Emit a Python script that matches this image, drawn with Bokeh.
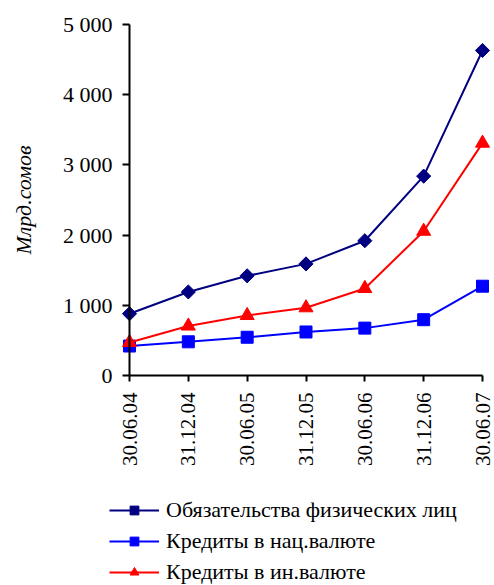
import numpy as np
from bokeh.plotting import figure
from bokeh.models import Range1d, FixedTicker, Legend, LegendItem
from bokeh.embed import file_html
from bokeh.resources import INLINE

dates = ["30.06.04", "31.12.04", "30.06.05", "31.12.05", "30.06.06", "31.12.06", "30.06.07"]
obligations = [880, 1190, 1420, 1590, 1920, 2840, 4630]
credits_nat = [420, 480, 545, 620, 675, 795, 1272]
credits_for = [470, 705, 855, 965, 1240, 2055, 3310]
y_ticks = [0, 1000, 2000, 3000, 4000, 5000]
y_tick_labels = ["0", "1 000", "2 000", "3 000", "4 000", "5 000"]
series_names = ["Обязательства физических лиц", "Кредиты в нац.валюте", "Кредиты в ин.валюте"]

FONT = "Liberation Serif"
FS = "22px"
xs = list(range(len(dates)))

W, H = 494, 585
# pixel layout of the plotting area: x=0 at 129px, x=6 at 482px; y=0 at 375px, y=5000 at 24px
X0, X6, Y0, Y5 = 129, 482, 375, 24
px_per_x = (X6 - X0) / 6
px_per_y = (Y0 - Y5) / 5000
x_range = Range1d(-X0 / px_per_x, 6 + (W - X6) / px_per_x)
y_range = Range1d(-(H - Y0) / px_per_y, 5000 + Y5 / px_per_y)

p = figure(width=W, height=H, output_backend="svg", toolbar_location=None,
           x_range=x_range, y_range=y_range,
           min_border_left=0, min_border_right=0, min_border_top=0, min_border_bottom=0)
p.outline_line_color = None
p.xgrid.visible = False
p.ygrid.visible = False
p.background_fill_color = "white"
p.border_fill_color = "white"

# y axis
p.yaxis.fixed_location = 0
p.yaxis.bounds = (0, 5000)
p.yaxis.ticker = FixedTicker(ticks=y_ticks)
p.yaxis.major_label_overrides = {t: l for t, l in zip(y_ticks, y_tick_labels)}
p.yaxis.minor_tick_line_color = None
p.yaxis.major_tick_out = 7
p.yaxis.major_tick_in = 0
p.yaxis.major_label_standoff = 10
p.yaxis.axis_line_color = "black"
p.yaxis.axis_line_width = 2
p.yaxis.major_tick_line_width = 2
p.yaxis.major_label_text_font = FONT
p.yaxis.major_label_text_font_size = FS
p.yaxis.major_label_text_color = "black"
p.yaxis.axis_label = "Млрд.сомов"
p.yaxis.axis_label_text_font = FONT
p.yaxis.axis_label_text_font_style = "italic"
p.yaxis.axis_label_text_font_size = FS
p.yaxis.axis_label_text_color = "black"
p.yaxis.axis_label_standoff = 24

# x axis
p.xaxis.fixed_location = 0
p.xaxis.bounds = (0, 6)
p.xaxis.ticker = FixedTicker(ticks=xs)
p.xaxis.major_label_overrides = {i: d for i, d in enumerate(dates)}
p.xaxis.major_label_orientation = np.pi / 2
p.xaxis.minor_tick_line_color = None
p.xaxis.major_tick_out = 6
p.xaxis.major_tick_in = 0
p.xaxis.major_label_standoff = 11
p.xaxis.axis_line_width = 2
p.xaxis.major_tick_line_width = 2
p.xaxis.major_label_text_font = FONT
p.xaxis.major_label_text_font_size = "21px"
p.xaxis.major_label_text_color = "black"

colors = ["#000080", "#0000FF", "#FF0000"]
markers = ["square", "square", "triangle"]
angles = [np.pi / 4, 0, 0]
sizes = [10, 12, 14]
data = [obligations, credits_nat, credits_for]

items = []
for name, vals, c, m, a, s in zip(series_names, data, colors, markers, angles, sizes):
    r1 = p.line(xs, vals, line_color=c, line_width=2)
    r2 = p.scatter(xs, vals, marker=m, angle=a, size=s, fill_color=c, line_color=c)
    items.append(LegendItem(label=name, renderers=[r1, r2]))

legend = Legend(items=items, location=(109, 0), orientation="vertical",
                label_text_font=FONT, label_text_font_size=FS, label_text_color="black",
                glyph_width=50, glyph_height=22, label_height=22, label_standoff=7,
                spacing=5, padding=0, margin=0,
                border_line_color=None, background_fill_alpha=0)
p.add_layout(legend, "center")

open("out.html", "w").write(file_html(p, INLINE))
